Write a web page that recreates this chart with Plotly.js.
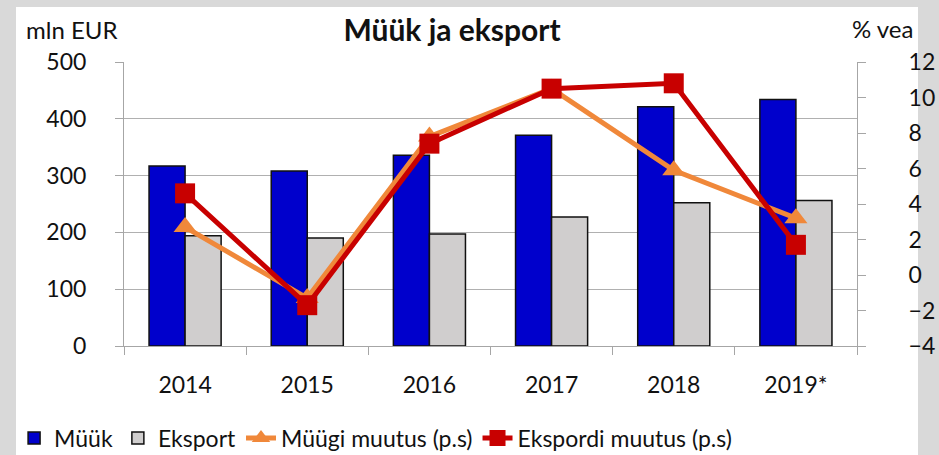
<!DOCTYPE html>
<html>
<head>
<meta charset="utf-8">
<script src="https://cdn.plot.ly/plotly-3.0.1.min.js"></script>
<style>
html,body{margin:0;padding:0;background:#d9d9d9;width:939px;height:455px;overflow:hidden;}
#bg{position:absolute;left:16px;top:7px;width:902px;height:448px;background:#fff;}
#chart{position:absolute;left:0;top:0;width:939px;height:455px;}
</style>
</head>
<body>
<div id="bg"></div>
<div id="chart"></div>
<script>
const years = ["2014", "2015", "2016", "2017", "2018", "2019*"];
const myyk = [317, 308, 336, 371, 421, 434];
const eksport = [194, 190, 197, 227, 252, 256];
const myygiMuutus = [2.7, -1.3, 7.8, 10.5, 5.9, 3.2];
const ekspordiMuutus = [4.6, -1.7, 7.4, 10.5, 10.8, 1.7];
const leftTicks = [0, 100, 200, 300, 400, 500];
const rightTicks = [-4, -2, 0, 2, 4, 6, 8, 10, 12];

const font = "Lato, 'Open Sans', sans-serif";

const traces = [
  {type: "bar", name: "Müük", x: years, y: myyk,
   marker: {color: "#0000cc", line: {color: "#111", width: 1.5}}},
  {type: "bar", name: "Eksport", x: years, y: eksport,
   marker: {color: "#d0cece", line: {color: "#111", width: 1.5}}},
  {type: "scatter", mode: "lines+markers", name: "Müügi muutus (p.s)", x: years, y: myygiMuutus, yaxis: "y2",
   line: {color: "#f0883a", width: 5}, marker: {symbol: "triangle-up", size: 20, color: "#f0883a"}},
  {type: "scatter", mode: "lines+markers", name: "Ekspordi muutus (p.s)", x: years, y: ekspordiMuutus, yaxis: "y2",
   line: {color: "#c80000", width: 5}, marker: {symbol: "square", size: 20, color: "#c80000"}}
];

const layout = {
  width: 939, height: 455,
  paper_bgcolor: "rgba(0,0,0,0)", plot_bgcolor: "#ffffff",
  margin: {l: 124, r: 82, t: 62, b: 109, autoexpand: false},
  font: {family: font, size: 23, color: "#111"},
  title: {text: "<b>Müük ja eksport</b>", font: {family: font, size: 30, color: "#111"},
          xref: "container", x: 0.4814, xanchor: "center", yref: "container", y: 0.934, yanchor: "middle"},
  barmode: "group", bargap: 0.41, bargroupgap: 0,
  showlegend: true,
  legend: {orientation: "h", xref: "container", yref: "container", x: 0.015, xanchor: "left", y: 0.037, yanchor: "middle",
           font: {family: font, size: 23, color: "#111"}, traceorder: "normal", itemwidth: 30,
           bgcolor: "rgba(0,0,0,0)"},
  xaxis: {type: "category", showline: true, linecolor: "#a6a6a6", linewidth: 1,
          ticks: "outside", ticklen: 8, tickcolor: "#a6a6a6", tickson: "boundaries",
          ticklabelstandoff: 18, showgrid: false, zeroline: false},
  yaxis: {range: [0, 500], tickvals: leftTicks, showline: true, linecolor: "#a6a6a6",
          ticks: "outside", ticklen: 8, tickcolor: "#a6a6a6",
          gridcolor: "#b0b0b0", gridwidth: 1, zeroline: false, ticklabelstandoff: 24},
  yaxis2: {range: [-4, 12], tickvals: rightTicks, overlaying: "y", side: "right",
           showline: true, linecolor: "#a6a6a6", ticks: "outside", ticklen: 8, tickcolor: "#a6a6a6",
           showgrid: false, zeroline: false, ticklabelstandoff: 38},
  annotations: [
    {text: "mln EUR", xref: "paper", yref: "paper", x: -0.1364, y: 1.1127, xanchor: "left", yanchor: "middle",
     showarrow: false, font: {family: font, size: 24, color: "#111"}},
    {text: "% vea", xref: "paper", yref: "paper", x: 0.990, y: 1.1197, xanchor: "left", yanchor: "middle",
     showarrow: false, font: {family: font, size: 24, color: "#111"}}
  ]
};

Plotly.newPlot("chart", traces, layout, {displayModeBar: false, staticPlot: true});
</script>
</body>
</html>
